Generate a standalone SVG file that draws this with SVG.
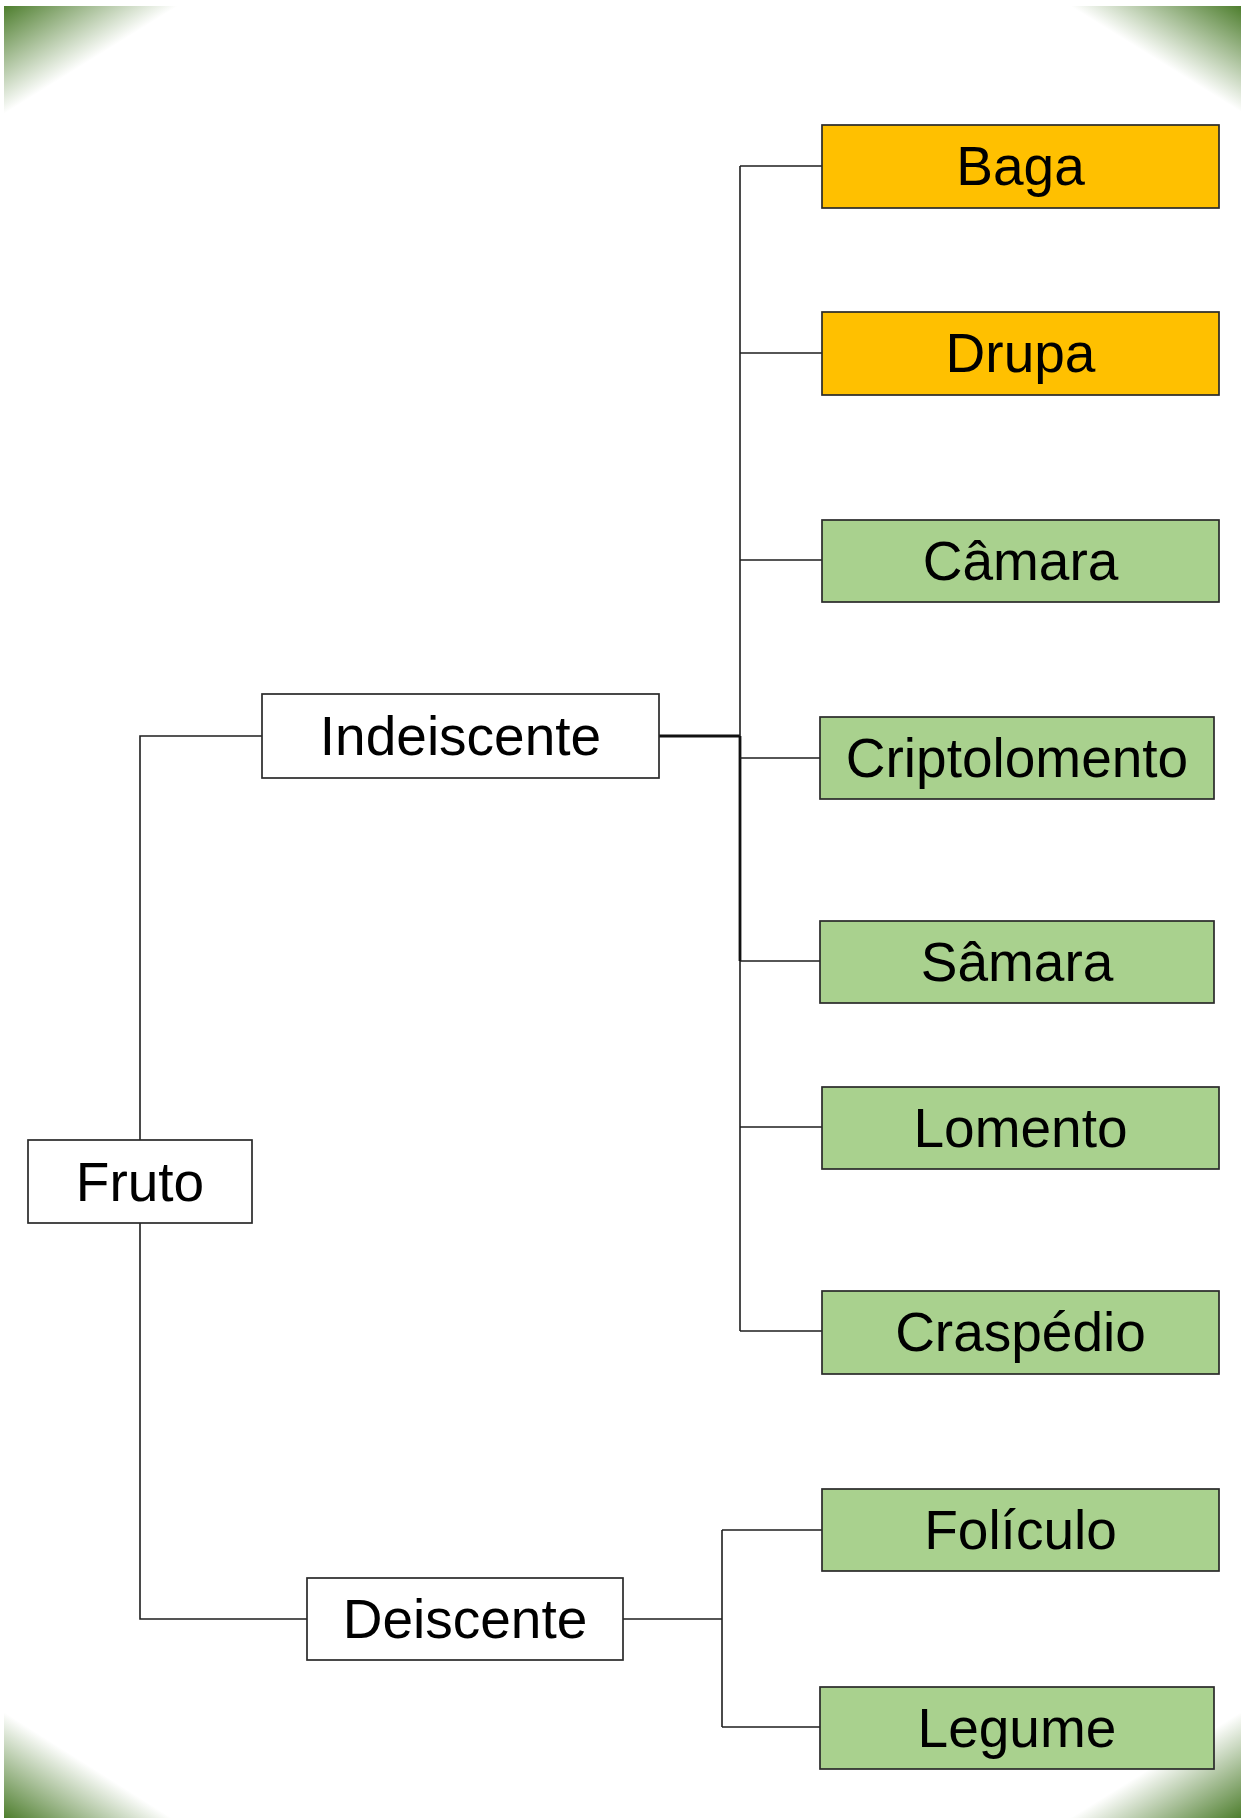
<svg xmlns="http://www.w3.org/2000/svg" width="1241" height="1818" viewBox="0 0 1241 1818">
  <defs>
    <!-- corner fades: iso-lines run parallel to each triangle's hypotenuse -->
    <linearGradient id="fadeTL" x1="0" y1="0" x2="0.5" y2="0.5">
      <stop offset="0" stop-color="#4E7E2E"/>
      <stop offset="1" stop-color="#4E7E2E" stop-opacity="0"/>
    </linearGradient>
    <linearGradient id="fadeTR" x1="1" y1="0" x2="0.5" y2="0.5">
      <stop offset="0" stop-color="#4E7E2E"/>
      <stop offset="1" stop-color="#4E7E2E" stop-opacity="0"/>
    </linearGradient>
    <linearGradient id="fadeBL" x1="0" y1="1" x2="0.5" y2="0.5">
      <stop offset="0" stop-color="#4E7E2E"/>
      <stop offset="1" stop-color="#4E7E2E" stop-opacity="0"/>
    </linearGradient>
    <linearGradient id="fadeBR" x1="1" y1="1" x2="0.5" y2="0.5">
      <stop offset="0" stop-color="#4E7E2E"/>
      <stop offset="1" stop-color="#4E7E2E" stop-opacity="0"/>
    </linearGradient>
  </defs>
  <style>
    .box { stroke: #2A2A2A; stroke-width: 1.7; }
    .plain { fill: #FFFFFF; }
    .orange { fill: #FFC000; }
    .green { fill: #A9D18E; }
    .label { font-family: "Liberation Sans", Arial, sans-serif; font-size: 55px; fill: #000000; text-anchor: middle; }
    .link { fill: none; stroke: #1E1E1E; stroke-width: 1.6; }
    .link-bold { fill: none; stroke: #111111; stroke-width: 2.8; }
  </style>

  <rect x="0" y="0" width="1241" height="1818" fill="#FFFFFF"/>

  <!-- decorative corner fades -->
  <g id="corners">
    <polygon points="4,6 178,6 4,114" fill="url(#fadeTL)"/>
    <polygon points="1070,6 1241,6 1241,112" fill="url(#fadeTR)"/>
    <polygon points="4,1712 4,1818 172,1818" fill="url(#fadeBL)"/>
    <polygon points="1241,1712 1241,1818 1070,1818" fill="url(#fadeBR)"/>
  </g>

  <!-- connectors -->
  <g id="connectors">
    <!-- Fruto to its two branches -->
    <polyline class="link" points="140,1140 140,736 262,736"/>
    <polyline class="link" points="140,1223 140,1619 307,1619"/>
    <!-- Indeiscente to its trunk -->
    <line class="link-bold" x1="659" y1="736" x2="740" y2="736"/>
    <line class="link" x1="740" y1="166" x2="740" y2="1331"/>
    <line class="link-bold" x1="740" y1="736" x2="740" y2="961"/>
    <line class="link" x1="740" y1="166" x2="822" y2="166"/>
    <line class="link" x1="740" y1="353" x2="822" y2="353"/>
    <line class="link" x1="740" y1="560" x2="822" y2="560"/>
    <line class="link" x1="740" y1="758" x2="820" y2="758"/>
    <line class="link" x1="740" y1="961" x2="820" y2="961"/>
    <line class="link" x1="740" y1="1127" x2="822" y2="1127"/>
    <line class="link" x1="740" y1="1331" x2="822" y2="1331"/>
    <!-- Deiscente to its trunk -->
    <line class="link" x1="623" y1="1619" x2="722" y2="1619"/>
    <line class="link" x1="722" y1="1530" x2="722" y2="1727"/>
    <line class="link" x1="722" y1="1530" x2="822" y2="1530"/>
    <line class="link" x1="722" y1="1727" x2="820" y2="1727"/>
  </g>

  <!-- nodes -->
  <g id="fruto">
    <rect class="box plain" x="28" y="1140" width="224" height="83"/>
    <text class="label" x="140" y="1201">Fruto</text>
  </g>
  <g id="indeiscente">
    <rect class="box plain" x="262" y="694" width="397" height="84"/>
    <text class="label" x="460.5" y="755">Indeiscente</text>
  </g>
  <g id="deiscente">
    <rect class="box plain" x="307" y="1578" width="316" height="82"/>
    <text class="label" x="465" y="1638">Deiscente</text>
  </g>
  <g id="baga">
    <rect class="box orange" x="822" y="125" width="397" height="83"/>
    <text class="label" x="1020.5" y="185">Baga</text>
  </g>
  <g id="drupa">
    <rect class="box orange" x="822" y="312" width="397" height="83"/>
    <text class="label" x="1020.5" y="372">Drupa</text>
  </g>
  <g id="camara">
    <rect class="box green" x="822" y="520" width="397" height="82"/>
    <text class="label" x="1020.5" y="580">Câmara</text>
  </g>
  <g id="criptolomento">
    <rect class="box green" x="820" y="717" width="394" height="82"/>
    <text class="label" x="1017" y="777">Criptolomento</text>
  </g>
  <g id="samara">
    <rect class="box green" x="820" y="921" width="394" height="82"/>
    <text class="label" x="1017" y="981">Sâmara</text>
  </g>
  <g id="lomento">
    <rect class="box green" x="822" y="1087" width="397" height="82"/>
    <text class="label" x="1020.5" y="1147">Lomento</text>
  </g>
  <g id="craspedio">
    <rect class="box green" x="822" y="1291" width="397" height="83"/>
    <text class="label" x="1020.5" y="1351">Craspédio</text>
  </g>
  <g id="foliculo">
    <rect class="box green" x="822" y="1489" width="397" height="82"/>
    <text class="label" x="1020.5" y="1549">Folículo</text>
  </g>
  <g id="legume">
    <rect class="box green" x="820" y="1687" width="394" height="82"/>
    <text class="label" x="1017" y="1747">Legume</text>
  </g>
</svg>
